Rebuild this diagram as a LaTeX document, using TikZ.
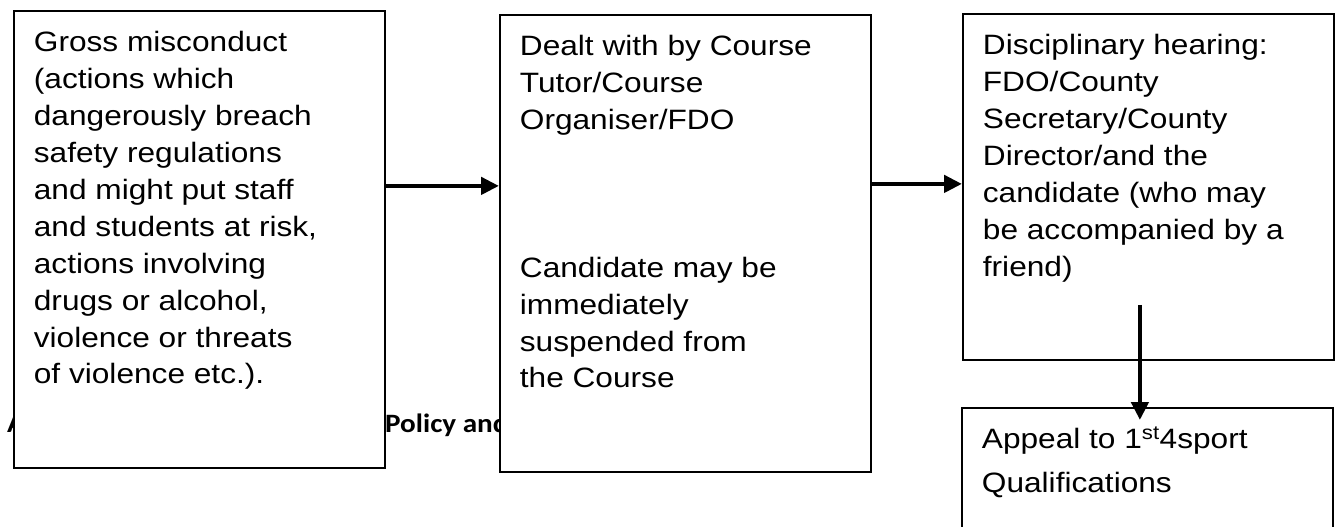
\documentclass[tikz,border=0pt]{standalone}
\usepackage{fontspec}
\usepackage{tikz}
\usetikzlibrary{arrows.meta}
\newfontfamily\boxfont[FakeStretch=1.13]{Liberation Sans}
\newfontfamily\titlefont[FakeStretch=1.1]{Carlito}
\tikzset{
    flow-box/.style = {draw=black, fill=white, line width=1.8pt, rectangle, anchor=north west, inner xsep=20pt, inner ysep=21pt, text height=20pt, font={\boxfont\fontsize{28pt}{36.9pt}\selectfont}},
    flow-arrow/.style = {line width=4.5pt, -{Triangle[length=18pt, width=17pt]}},
    back-title/.style = {font={\titlefont\bfseries\fontsize{26.5pt}{30pt}\selectfont}, anchor=base west, inner sep=0pt},
}

\begin{document}
\begin{tikzpicture}[x=1pt, y=-1pt]
\useasboundingbox (0,0) rectangle (1338,527);
\clip (0,0) rectangle (1338,527);
\node[back-title] (titleA) at (7,432) {A};
\node[back-title] (titlePolicy) at (385,432) {Policy and};
\node[flow-box, text depth=395pt] (misconduct) at (13,10) {\begin{minipage}[t]{331pt}\raggedright
    Gross misconduct\\ (actions which\\ dangerously breach\\ safety regulations\\ and might put staff\\ and students at risk,\\ actions involving\\ drugs or alcohol,\\ violence or threats\\ of violence etc.).
\end{minipage}};
\node[flow-box, text depth=395pt] (dealt) at (499,14) {\begin{minipage}[t]{331pt}\raggedright
    Dealt with by Course\\ Tutor/Course\\ Organiser/FDO\\[3\baselineskip] Candidate may be\\ immediately\\ suspended from\\ the Course
\end{minipage}};
\node[flow-box, text depth=284pt] (hearing) at (962,13) {\begin{minipage}[t]{331pt}\raggedright
    Disciplinary hearing:\\ FDO/County\\ Secretary/County\\ Director/and the\\ candidate (who may\\ be accompanied by a\\ friend)
\end{minipage}};
\node[flow-box, text depth=108pt] (appeal) at (961,407) {\begin{minipage}[t]{331pt}\raggedright
    Appeal to 1\textsuperscript{st}4sport\\[7pt] Qualifications
\end{minipage}};
\coordinate (drop) at ([xshift=-8.5pt, yshift=56pt]hearing.south);
\draw[flow-arrow] ([yshift=53.5pt]misconduct.east) -- ([yshift=53.5pt]misconduct.east -| dealt.west);
\draw[flow-arrow] ([yshift=59.5pt]dealt.east) -- ([yshift=59.5pt]dealt.east -| hearing.west);
\draw[flow-arrow] (drop) -- ([yshift=-13pt]drop |- appeal.north);
\end{tikzpicture}
\end{document}
